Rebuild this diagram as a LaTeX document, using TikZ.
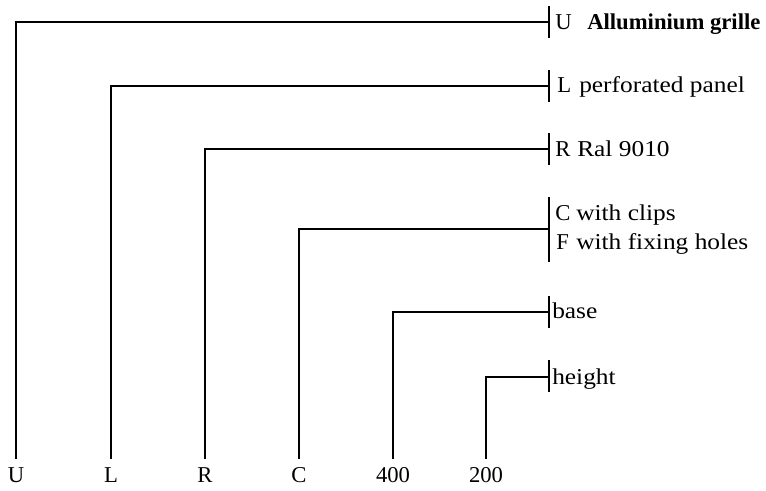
\documentclass[tikz,border=0pt]{standalone}
\usepackage{fontspec}
\setmainfont{Liberation Serif}
\newfontfamily\widefont[FakeStretch=1.12]{Liberation Serif}
\begin{document}
\begin{tikzpicture}[x=0.75pt,y=-0.75pt,
  ln/.style={line width=1.35pt,black},
  lbl/.style={inner sep=0pt,anchor=base west,font=\fontsize{17}{19}\selectfont},
  wlbl/.style={inner sep=0pt,anchor=base west,font=\fontsize{17}{19}\widefont},
  bot/.style={inner sep=0pt,anchor=base,font=\fontsize{17}{19}\selectfont}]
\useasboundingbox (0,0) rectangle (766,490);
% bottom labels
\node[bot] (bU) at (16,482) {U};
\node[bot] (bL) at (111,482) {L};
\node[bot] (bR) at (205,482) {R};
\node[bot] (bC) at (299,482) {C};
\node[bot] (b4) at (393,482) {400};
\node[bot] (b2) at (486,482) {200};
% bottom ends of verticals
\coordinate (eU) at (16,459);
\coordinate (eL) at (111,459);
\coordinate (eR) at (205,459);
\coordinate (eC) at (299,459);
\coordinate (e4) at (393,459);
\coordinate (e2) at (486,459);
% bars
\coordinate (tU) at (549,6); \coordinate (sU) at (549,38);
\coordinate (tL) at (549,70); \coordinate (sL) at (549,102);
\coordinate (tR) at (549,133); \coordinate (sR) at (549,165);
\coordinate (tC) at (549,197); \coordinate (sC) at (549,262);
\coordinate (t4) at (549,296); \coordinate (s4) at (549,328);
\coordinate (t2) at (549,360); \coordinate (s2) at (549,392);
\draw[ln] (tU) -- (sU);
\draw[ln] (tL) -- (sL);
\draw[ln] (tR) -- (sR);
\draw[ln] (tC) -- (sC);
\draw[ln] (t4) -- (s4);
\draw[ln] (t2) -- (s2);
% connectors
\coordinate (hU) at (549,22);
\coordinate (hL) at (549,86);
\coordinate (hR) at (549,149);
\coordinate (hC) at (549,229);
\coordinate (h4) at (549,312);
\coordinate (h2) at (549,377);
\draw[ln] (eU) |- (hU);
\draw[ln] (eL) |- (hL);
\draw[ln] (eR) |- (hR);
\draw[ln] (eC) |- (hC);
\draw[ln] (e4) |- (h4);
\draw[ln] (e2) |- (h2);
% labels
\node[lbl] (kU) at (555,29) {U};
\node[lbl] (tx1) at (587,29) {\textbf{Alluminium grille}};
\node[lbl] (kL) at (557,92) {L};
\node[wlbl] (tx2) at (579,92) {perforated panel};
\node[lbl] (kR) at (555,156) {R};
\node[wlbl] (tx3) at (577,156) {Ral 9010};
\node[lbl] (kC) at (555,220) {C};
\node[wlbl] (tx4) at (576,220) {with clips};
\node[lbl] (kF) at (556,249) {F};
\node[wlbl] (tx5) at (576,249) {with fixing holes};
\node[wlbl] (tx6) at (552,318) {base};
\node[wlbl] (tx7) at (552,384) {height};
\end{tikzpicture}
\end{document}
